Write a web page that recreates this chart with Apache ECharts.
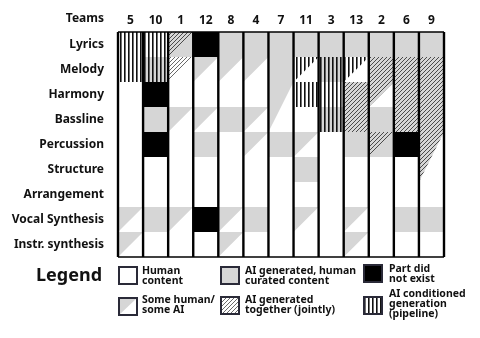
<!DOCTYPE html>
<html><head><meta charset="utf-8">
<script src="https://cdn.jsdelivr.net/npm/echarts@6/dist/echarts.min.js"></script>
<style>html,body{margin:0;padding:0;background:#fff}#c{width:480px;height:338px}</style>
</head><body><div id="c"></div>
<script>
// ---- data ----
const teams = ['5','10','1','12','8','4','7','11','3','13','2','6','9'];
const parts = ['Lyrics','Melody','Harmony','Bassline','Percussion','Structure','Arrangement','Vocal Synthesis','Instr. synthesis'];
// H human, A AI curated, X did not exist, M some human/some AI, P pipeline, J jointly
// suffix t = triangle only, a = on gray, w = on white, 2a/2b = two-row diagonal (top/bottom)
const lyrics      = ['P','P','AJt','X','A','A','A','A','A','A','A','A','A'];
const melody      = ['P','Pa','Jw','M','M','M','A','Pt','Pa','Pt','J','J','J'];
const harmony     = ['H','X','H','H','H','H','M2a','P','P','J','Jt','J','J'];
const bassline    = ['H','A','M','M','A','M','M2b','H','Pa','J','A','J','J'];
const percussion  = ['H','X','H','A','H','M','A','M','H','A','AJt','X','J2a'];
const structure   = ['H','H','H','H','H','H','H','A','H','H','H','H','J2b'];
const arrangement = ['H','H','H','H','H','H','H','H','H','H','H','H','H'];
const vocalSynth  = ['M','A','M','X','M','A','H','M','H','M','H','A','A'];
const instrSynth  = ['M','H','H','H','M','H','H','H','H','M','H','H','H'];
const rows = [lyrics, melody, harmony, bassline, percussion, structure, arrangement, vocalSynth, instrSynth];
const legendItems = [
  ['Human','content'], ['AI generated, human','curated content'], ['Part did','not exist'],
  ['Some human/','some AI'], ['AI generated','together (jointly)'], ['AI conditioned','generation','(pipeline)']
];

// ---- styles ----
const GRAY = '#d6d6d6';
function mk(w,h,draw){const cv=document.createElement('canvas');cv.width=w;cv.height=h;const x=cv.getContext('2d');draw(x);return cv;}
function hatch(bg,line){return mk(4,4,c=>{c.fillStyle=bg;c.fillRect(0,0,4,4);c.strokeStyle=line;c.lineWidth=1;c.beginPath();
  c.moveTo(-1,5);c.lineTo(5,-1);c.moveTo(-1,1);c.lineTo(1,-1);c.moveTo(3,5);c.lineTo(5,3);c.stroke();});}
function stripes(bg){return mk(4,4,c=>{c.fillStyle=bg;c.fillRect(0,0,4,4);c.fillStyle='#111';c.fillRect(0,0,1.6,4);});}
const hatchG = {image: hatch(GRAY,'#4a4a4a'), repeat:'repeat'};
const hatchW = {image: hatch('#ffffff','#6a6a6a'), repeat:'repeat'};
const stripeW = {image: stripes('#ffffff'), repeat:'repeat'};
const stripeG = {image: stripes(GRAY), repeat:'repeat'};

const cells = [], codes = [];
rows.forEach((row, r) => row.forEach((code, c) => { cells.push([c, r]); codes.push(code); }));

function cellShapes(code, x0, y0, w, h) {
  const x1 = x0 + w, y1 = y0 + h;
  const rect = f => ({type:'rect', shape:{x:x0, y:y0, width:w, height:h+0.3}, style:{fill:f}});
  const poly = (pts, f) => ({type:'polygon', shape:{points:pts}, style:{fill:f}});
  const tri = f => poly([[x0,y0],[x1,y0],[x0,y1]], f);
  const topHalf = f => poly([[x0,y0],[x1,y0],[x0+w/2,y1],[x0,y1]], f);
  const botHalf = f => poly([[x0,y0],[x0+w/2,y0],[x0,y1]], f);
  switch (code) {
    case 'H': return [rect('#fff')];
    case 'A': return [rect(GRAY)];
    case 'X': return [rect('#000')];
    case 'M': return [rect('#fff'), tri(GRAY)];
    case 'P': return [rect(stripeW)];
    case 'Pa': return [rect(stripeG)];
    case 'Pt': return [rect('#fff'), tri(stripeW)];
    case 'J': return [rect(hatchG)];
    case 'Jt': return [rect('#fff'), tri(hatchG)];
    case 'Jw': return [rect('#fff'), tri(hatchW)];
    case 'AJt': return [rect(GRAY), tri(hatchG)];
    case 'M2a': return [rect('#fff'), topHalf(GRAY)];
    case 'M2b': return [rect('#fff'), botHalf(GRAY)];
    case 'J2a': return [rect('#fff'), topHalf(hatchG)];
    case 'J2b': return [rect('#fff'), botHalf(hatchG)];
  }
  return [];
}

const chart = echarts.init(document.getElementById('c'), null, {renderer:'canvas'});
const FONT = '"Noto Sans", "Open Sans", sans-serif';

function legendBox(x, y, kind) {
  const w = 18, h = 17;
  const ch = [];
  const fills = {H:'#fff', A:GRAY, X:'#000', M:'#fff', J:hatchW, P:stripeW};
  ch.push({type:'rect', shape:{x, y, width:w, height:h}, style:{fill:fills[kind]}});
  if (kind === 'M') ch.push({type:'polygon', shape:{points:[[x,y],[x+w,y],[x,y+h]]}, style:{fill:GRAY}});
  ch.push({type:'rect', shape:{x, y, width:w, height:h}, style:{fill:null, stroke:'#2a2a38', lineWidth:2}});
  return {type:'group', children: ch};
}
function legendText(x, y, lines) {
  return {type:'text', x, y, style:{text: lines.join('\n'), font:'bold 10.5px ' + FONT, fill:'#111', lineHeight:10, textVerticalAlign:'top'}};
}

const graphics = [
  {type:'text', right: 480-104, top: 13, style:{text:'Teams', font:'bold 12px ' + FONT, fill:'#111', textAlign:'right'}},
  {type:'text', left: 36, top: 267, style:{text:'Legend', font:'bold 18px ' + FONT, fill:'#111'}},
  legendBox(119, 267, 'H'), legendText(142, 266, legendItems[0]),
  legendBox(221, 267, 'A'), legendText(245, 266, legendItems[1]),
  legendBox(364, 265, 'X'), legendText(389, 264, legendItems[2]),
  legendBox(119, 298, 'M'), legendText(142, 295, legendItems[3]),
  legendBox(221, 297, 'J'), legendText(245, 295, legendItems[4]),
  legendBox(364, 297, 'P'), legendText(389, 289, legendItems[5])
];

chart.setOption({
  animation: false,
  grid: {left: 118, top: 32, width: 326, height: 225, show: false},
  xAxis: {type:'category', data: teams, position:'top', axisLine:{show:false}, axisTick:{show:false}, splitLine:{show:false},
    axisLabel:{fontWeight:'bold', fontSize:12, color:'#111', margin:5, fontFamily: FONT}},
  yAxis: {type:'category', data: parts, inverse: true, axisLine:{show:false}, axisTick:{show:false}, splitLine:{show:false},
    axisLabel:{fontWeight:'bold', fontSize:12, color:'#111', margin:14, fontFamily: FONT}},
  graphic: graphics,
  series: [
    {type:'custom', data: cells, encode:{x:0, y:1}, z: 2,
      renderItem: (params, api) => {
        const c = api.value(0), r = api.value(1);
        const p = api.coord([c, r]); const s = api.size([1, 1]);
        return {type:'group', children: cellShapes(codes[params.dataIndex], p[0]-s[0]/2, p[1]-s[1]/2, s[0], s[1])};
      }},
    {type:'custom', data: [[0, 0]], encode:{x:0, y:1}, z: 3,
      renderItem: (params, api) => {
        const cs = params.coordSys; const s = api.size([1, 1]);
        const ch = [];
        for (let i = 0; i <= teams.length; i++) {
          const x = api.coord([Math.min(i, teams.length-1), 0])[0] + (i === teams.length ? s[0]/2 : -s[0]/2);
          ch.push({type:'line', shape:{x1:x, y1:cs.y, x2:x, y2:cs.y+cs.height}, style:{stroke:'#000', lineWidth:2.4}});
        }
        ch.push({type:'line', shape:{x1:cs.x, y1:cs.y, x2:cs.x+cs.width, y2:cs.y}, style:{stroke:'#000', lineWidth:1.6}});
        ch.push({type:'line', shape:{x1:cs.x, y1:cs.y+cs.height, x2:cs.x+cs.width, y2:cs.y+cs.height}, style:{stroke:'#000', lineWidth:1.6}});
        return {type:'group', children: ch};
      }}
  ]
});
</script></body></html>
